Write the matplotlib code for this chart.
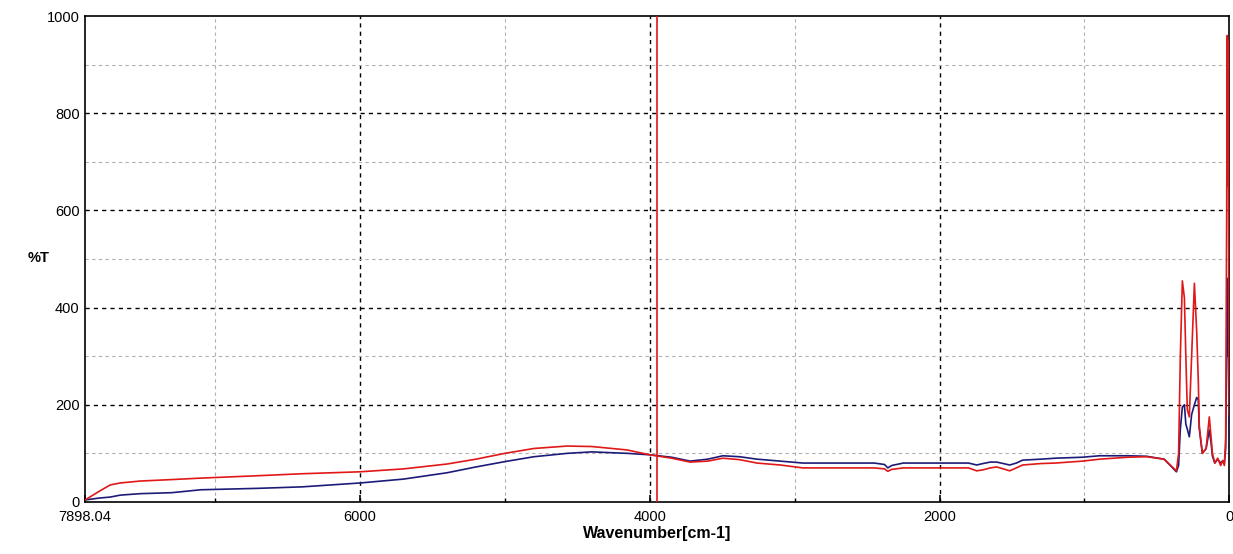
import numpy as np
import matplotlib
matplotlib.use('Agg')
import matplotlib.pyplot as plt
from matplotlib.ticker import FixedLocator

plt.rcParams['font.family'] = ['Liberation Sans', 'DejaVu Sans']

# wavenumbers (cm-1), descending
wavenumber = [7898.04, 7800, 7724, 7655, 7517, 7300, 7100, 6700, 6400, 6000,
              5700, 5400, 5200, 5000, 4800, 4570, 4400, 4157, 4000, 3850,
              3722, 3600, 3495, 3380, 3260, 3100, 2943, 2700, 2450, 2380,
              2357, 2330, 2250, 2000, 1800, 1744, 1700, 1650, 1606, 1560,
              1516, 1470, 1427, 1300, 1200, 1013, 896, 700, 572, 450,
              365, 350, 338, 324, 310, 300, 290, 276, 260, 241,
              225, 214, 207, 186, 160, 138, 125, 117, 100, 80,
              60, 45, 34, 25, 18, 14, 12, 10, 8, 6, 3, 0]

# sample 1 (red)
red_T = [4, 22, 35, 39, 43, 46, 49, 54, 58, 62,
         68, 78, 88, 100, 110, 115, 114, 107, 97, 90,
         82, 84, 90, 87, 80, 76, 70, 70, 70, 68,
         63, 67, 70, 70, 70, 64, 66, 70, 72, 68,
         64, 70, 76, 79, 80, 84, 88, 92, 93, 88,
         64, 100, 300, 455, 420, 300, 190, 175, 300, 450,
         350, 250, 155, 100, 110, 175, 130, 100, 80, 90,
         75, 85, 75, 130, 600, 960, 680, 950, 650, 940, 300, 180]

# sample 2 (blue)
blue_T = [4, 8, 10, 14, 17, 19, 25, 28, 31, 39,
          47, 60, 72, 83, 93, 100, 103, 100, 97, 92,
          84, 88, 95, 93, 88, 84, 80, 80, 80, 77,
          70, 75, 80, 80, 80, 76, 79, 82, 82, 79,
          76, 80, 86, 88, 90, 92, 95, 95, 94, 88,
          62, 75, 150, 195, 200, 160, 150, 134, 180, 200,
          215, 210, 150, 100, 110, 148, 120, 95, 80, 88,
          80, 85, 80, 110, 300, 460, 300, 450, 300, 440, 200, 130]

cursor_x = 3952

fig = plt.figure(figsize=(12.33, 5.54), dpi=100)
ax = fig.add_axes([0.069, 0.094, 0.928, 0.877])

# grid: major black dashed, minor grey dashed
for x in [2000, 4000, 6000]:
    ax.axvline(x, color='black', linestyle=(0, (3, 3)), linewidth=1, zorder=1)
for x in [1000, 3000, 5000, 7000]:
    ax.axvline(x, color='#b0b0b0', linestyle=(0, (3, 3)), linewidth=0.8, zorder=1)
for y in [200, 400, 600, 800]:
    ax.axhline(y, color='black', linestyle=(0, (3, 3)), linewidth=1, zorder=1)
for y in [100, 300, 500, 700, 900]:
    ax.axhline(y, color='#b0b0b0', linestyle=(0, (3, 3)), linewidth=0.8, zorder=1)

ax.plot(wavenumber, blue_T, color='#1c1c78', linewidth=1.2, zorder=3)
ax.plot(wavenumber, red_T, color='#e01818', linewidth=1.2, zorder=4)
ax.axvline(cursor_x, color='#e01818', linewidth=1.2, zorder=5)

ax.set_xlim(7898.04, 0)
ax.set_ylim(0, 1000)

ax.xaxis.set_major_locator(FixedLocator([7898.04, 6000, 4000, 2000, 0]))
ax.xaxis.set_minor_locator(FixedLocator([7000, 5000, 3000, 1000]))
ax.set_xticklabels(['7898.04', '6000', '4000', '2000', '0'])
ax.yaxis.set_major_locator(FixedLocator([0, 200, 400, 600, 800, 1000]))
ax.yaxis.set_minor_locator(FixedLocator([100, 300, 500, 700, 900]))

ax.tick_params(axis='both', which='major', direction='in', length=5, width=1.2,
               labelsize=10.5)
ax.tick_params(axis='x', which='major', pad=6)
ax.tick_params(axis='y', which='major', pad=4)
ax.tick_params(axis='both', which='minor', direction='in', length=3, width=1)
ax.tick_params(axis='y', which='both', left=False, right=False)

for s in ax.spines.values():
    s.set_linewidth(1.2)
    s.set_color('black')

ax.set_xlabel('Wavenumber[cm-1]', fontsize=11.5, fontweight='bold', labelpad=1)
fig.text(0.022, 0.535, '%T', fontsize=10.5, fontweight='bold', ha='left', va='center')

fig.savefig('out.png', dpi=100)
